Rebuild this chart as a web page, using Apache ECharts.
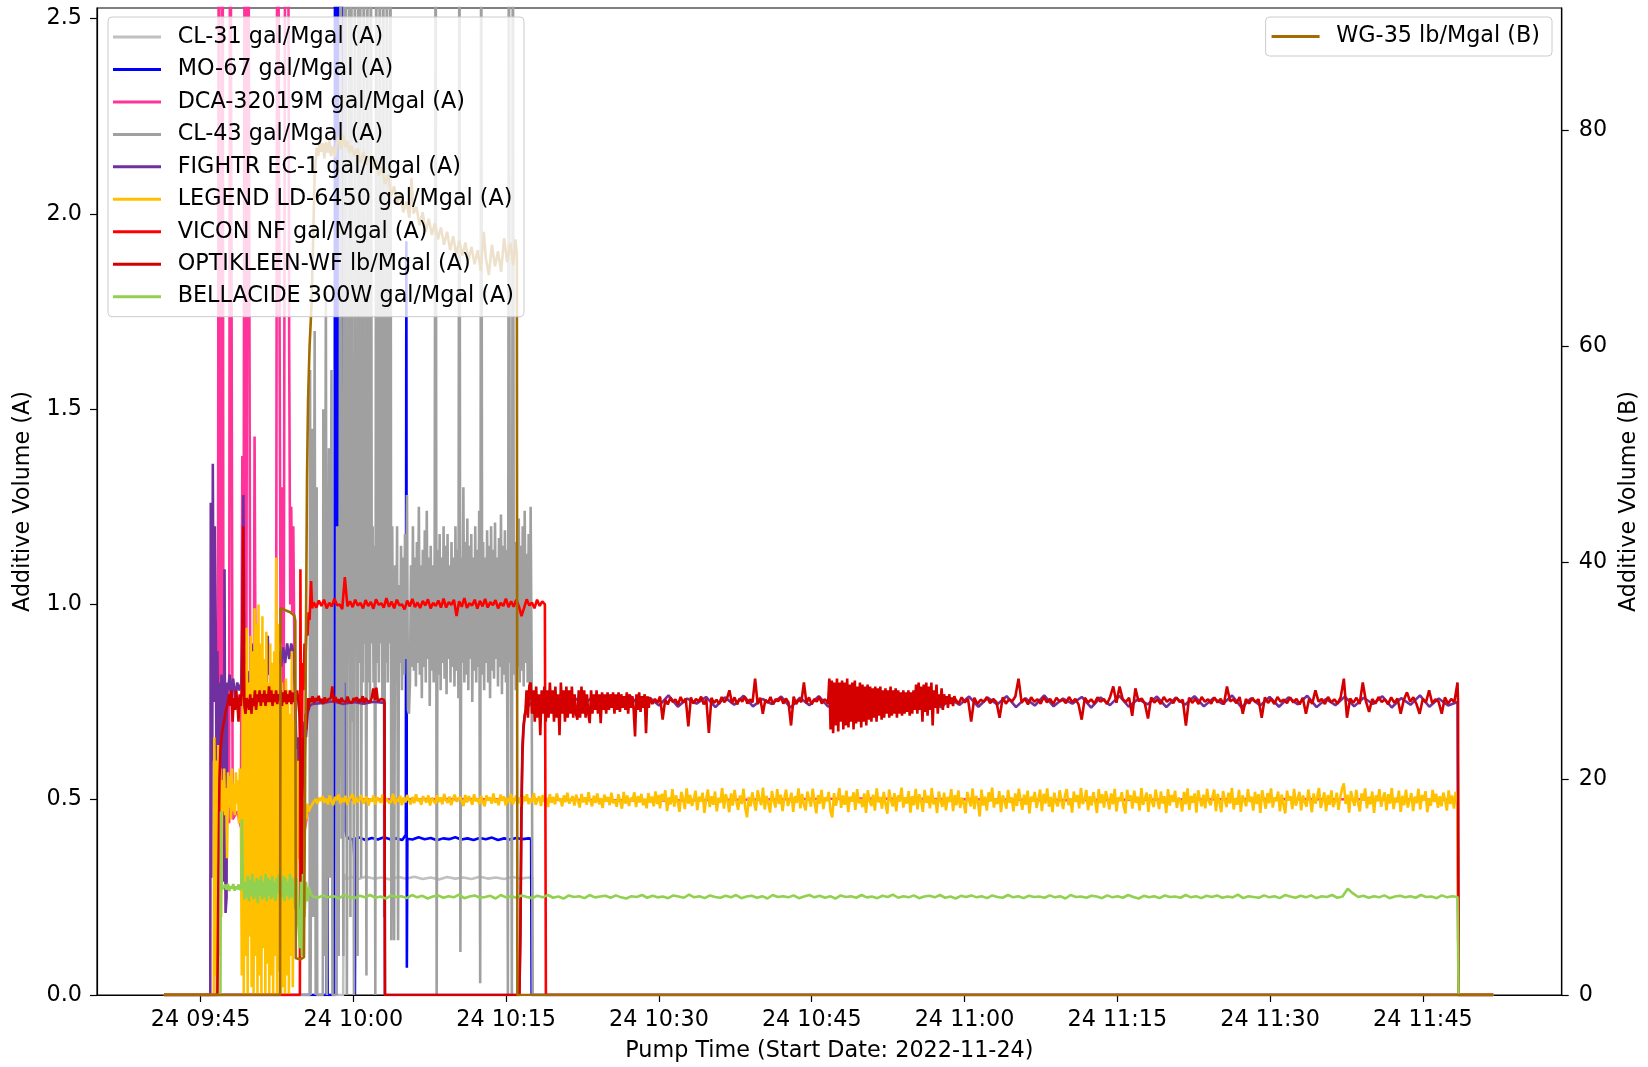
<!DOCTYPE html>
<html><head><meta charset="utf-8">
<script src="https://cdn.jsdelivr.net/npm/echarts@6/dist/echarts.min.js"></script>
<style>html,body{margin:0;padding:0;background:#fff}#chart{width:1648px;height:1067px}</style>
</head><body><div id="chart"></div>
<script>
// Time values are minutes after 09:00 on 2022-11-24
const xTickValues = [45, 60, 75, 90, 105, 120, 135, 150, 165];
const yTickValuesA = [0, 0.5, 1, 1.5, 2, 2.5];
const yTickValuesB = [0, 20, 40, 60, 80];
const seriesNames = ['CL-31 gal/Mgal (A)', 'MO-67 gal/Mgal (A)', 'DCA-32019M gal/Mgal (A)', 'CL-43 gal/Mgal (A)',
  'FIGHTR EC-1 gal/Mgal (A)', 'LEGEND LD-6450 gal/Mgal (A)', 'VICON NF gal/Mgal (A)', 'OPTIKLEEN-WF lb/Mgal (A)',
  'BELLACIDE 300W gal/Mgal (A)', 'WG-35 lb/Mgal (B)'];

// evenly sampled readings between two times
function spread(t0, t1, vals) {
  const n = vals.length, out = [];
  for (let i = 0; i < n; i++) out.push([t0 + (t1 - t0) * i / (n - 1), vals[i]]);
  return out;
}

const cl31 = [[41.4,0],[59.0,0],[59.05,0.31],[59.3,0.296],[59.8,0.302],[60.5,0.297],[61.2,0.303],[62.0,0.298],[62.8,0.301],[63.6,0.296],[64.4,0.302],[65.2,0.298],[66.0,0.303],[66.8,0.297],[67.6,0.301],[68.4,0.296],[69.2,0.302],[70.0,0.298],[70.8,0.301],[71.6,0.297],[72.4,0.303],[73.2,0.298],[74.0,0.301],[74.8,0.297],[75.6,0.302],[76.4,0.298],[77.2,0.301],[77.55,0.3],[77.6,0],[171.9,0]];

const mo67 = [[41.4,0],[57.38,0],[57.43,0.71],[57.48,0],[58.15,0],[58.2,3.2],[58.3,0],[58.4,3.2],[58.5,0.1],[58.6,3.2],[58.75,1.5],[58.85,3.2],[59.0,0.8],[59.2,1.3],[59.25,0.42],[59.35,0.405],[59.6,0.40],[60.0,0.398],[60.1,0.35],[60.15,0],[60.2,0.40],[60.6,0.403],[61.2,0.397],[61.8,0.402],[62.4,0.398],[63.0,0.404],[63.6,0.399],[64.2,0.401],[64.8,0.397],[65.15,0.41],[65.2,1.93],[65.25,0.07],[65.3,0.40],[65.8,0.398],[66.4,0.404],[67.0,0.399],[67.6,0.402],[68.2,0.396],[68.8,0.401],[69.4,0.399],[70.0,0.404],[70.6,0.398],[71.2,0.401],[71.8,0.397],[72.4,0.402],[73.0,0.399],[73.6,0.403],[74.2,0.397],[74.8,0.401],[75.4,0.398],[76.0,0.402],[76.6,0.399],[77.2,0.401],[77.45,0.40],[77.5,0],[171.9,0]];

const dca = [[41.4,0],[46.6,0],[46.7,0.55],[46.8,3.5],[46.9,0.48],[47.05,0.5],[47.15,3.5],[47.25,0.46],[47.5,0.47],[47.8,0.44],[47.9,3.5],[48.05,3.5],[48.15,0.45],[48.6,0.47],[48.95,0.43],[49.1,1.38],[49.2,0.5],[49.35,3.5],[49.5,0.9],[49.65,3.5],[49.8,3.5],[49.9,0.45],[50.2,0.46],[50.3,1.43],[50.45,0.45],[51.5,0.47],[52.4,0.46],[52.55,3.5],[52.7,3.5],[52.85,0.9],[53.0,1.3],[53.15,0.6],[53.35,3.5],[53.55,3.5],[53.7,1.64],[53.8,1.0],[53.9,1.25],[54.0,0.98],[54.1,1.2],[54.2,0.9],[54.35,0.4],[54.6,0.36],[54.9,0.34],[55.2,0.42],[55.6,0.48],[56.0,0.5],[70,0.502],[90,0.498],[110,0.503],[130,0.499],[150,0.502],[168.4,0.5],[168.5,0],[171.9,0]];

const cl43Start = [[41.4,0],[55.7,0],[55.75,1.6],[55.8,0],[55.95,1.45],[56.05,0.2],[56.2,1.7],[56.3,0],[56.4,1.3],[56.45,0],[57.0,0],[57.05,1.5],[57.15,0.1],[57.3,1.8],[57.4,0],[57.6,1.4],[57.7,0.3],[57.85,1.6],[57.95,0],[58.3,0],[58.4,1.2],[58.5,0.1],[58.65,1.1]];
const cl43Burst = [3,.4,1.2,.1,3,.8,3,0,1.1,.9, 3,.2,3,.7,1.3,0,3,.9,1.15,.1, 3,.85,3,.3,1.2,.8,3,.9,1.25,.05, 3,.8,1.1,.75,3,.9,1.2,.8,1.15,0, 3,.85,1.3,.8,3,.9,1.1,.75,3,.2, 1.2,.85,3,.8,1.15,.9,3,.14,1.2,.8];
const cl43Band = [.14,1.1,.8,1.2,.14,1.05,.85,1.15,.78,1.12,
 .82,1.18,.86,1.28,.73,.72,.8,1.1,.84,1.2,
 .83,1.12,.79,1.16,.85,1.25,.82,1.1,.76,1.14,
 .84,1.19,.8,1.24,.86,1.12,.74,1.15,.83,1.1,
 .8,1.14,3,0,1.14,.82,1.18,.78,1.12,.85,
 1.2,.81,1.15,.77,1.18,.86,1.1,.8,1.16,.84,
 1.12,.79,1.2,.83,1.14,.76,3,.11,1.12,.85,
 1.3,.8,1.16,.82,1.22,.78,1.15,.86,1.18,.75,
 1.12,.83,1.2,.8,1.14,.84,1.24,.03,3,.82,
 1.16,.78,1.12,.85,1.19,.8,1.15,.76,1.2,.83,
 1.14,.81,1.21,.86,1.12,.79,1.17,.84,1.23,.77,
 1.15,.82,1.19,.8,1.14,0,3,.85,1.2,0,
 3,.82,1.16,.78,1.12,.84,1.22,.8,1.15,.83,
 1.2,.79,1.24,.85,1.13,.8,1.18,.76,1.25,.84];
const cl43End = [[77.6,0],[171.9,0]];

const fightrP1 = [[41.4,0],[45.95,0],[46.0,1.26],[46.05,0.3],[46.1,1.1],[46.15,0.6],[46.2,1.36],[46.3,0.75],[46.4,1.2],[46.5,0.9],[46.55,0.6],[46.65,0.88],[46.75,0.62],[46.85,0.8],[46.95,0.58],[47.05,0.82],[47.15,0.79],[47.3,0.29],[47.35,1.09],[47.45,0.21],[47.55,0.25],[47.6,0.8],[47.7,0.78],[47.85,0.82],[48.0,0.77],[48.2,0.81],[48.4,0.76],[48.6,0.8],[48.8,0.78],[49.0,0.8],[49.1,0.95],[49.2,1.28],[49.3,0.85],[49.45,0.8],[49.6,0.83],[49.8,0.78],[50.0,0.84],[50.2,0.9],[50.35,0.8],[50.5,0.83],[50.7,0.79],[50.9,0.85],[51.1,0.81],[51.3,0.86],[51.5,0.8],[51.6,0.92],[51.7,0.82],[51.9,0.85],[52.1,0.8],[52.3,0.86],[52.5,0.82],[52.7,0.88],[52.9,0.84],[53.1,0.89],[53.3,0.85],[53.5,0.9],[53.7,0.86],[53.9,0.9],[54.1,0.88],[54.3,0.75],[54.45,0.58],[54.6,0.66],[54.75,0.53],[54.9,0.68],[55.05,0.6],[55.2,0.7],[55.35,0.66],[55.5,0.72],[55.7,0.74],[56.0,0.745],[57.0,0.748],[58.0,0.752],[59.0,0.745],[60.0,0.75],[61.0,0.746],[62.0,0.751],[63.05,0.748],[63.1,0]];
const fightrRise = [[76.3,0],[76.4,0.2],[76.5,0.5],[76.6,0.64],[76.7,0.69],[76.85,0.72],[77.0,0.735]];
const fightrBand = [.738,.763,.742,.766,.737,.76,.745,.764,.739,.758,
 .744,.765,.736,.761,.741,.767,.738,.759,.746,.763,
 .737,.762,.743,.766,.739,.758,.745,.764,.736,.761,
 .742,.765,.738,.76,.744,.767,.737,.759,.741,.763,
 .739,.762,.745,.766,.736,.758,.743,.764,.738,.761,
 .744,.765,.737,.76,.741,.767,.739,.759,.746,.763,
 .736,.762,.742,.766,.738,.758,.744,.764,.737,.761,
 .743,.765,.739,.76,.745,.767,.736,.759,.741,.763,
 .738,.762,.744,.766,.737,.758,.742,.764,.739,.761,
 .745,.765,.736,.76,.743,.767,.738,.759,.741,.75];
const fightrEnd = [[168.5,0],[171.9,0]];

const legendStart = [[41.4,0],[46.3,0]];
const legendChaos = [.66,.05,.6,0,.64,.1,.58,.2,
 .55,.47,.58,.46,.53,.35,.57,.48,.56,.45,.58,.47,.54,.46,.57,.49,.55,.44,.58,.5,
 .05,.9,0,.85,.1,.94,0,.8,.15,.92,.02,.88,0,.99,.1,.95,0,1.0,.05,.9,0,.97,.12,.86,0,.93,.08,.8,0,.9,.05,.85,0,.88,.1,1.12,0,.95,.06,.84,
 0,.8,.02,.75,0,.81,.05,.78,0,.72,.1,.88,.02,.7,
 .28,.63,.3,.6,.35,.55,.18,.53,.25,.5,.4,.48,.45,.49];
const legendBandA = [.47,.48,.488,.495,.502,.49,.505,.497,.509,.492,
 .503,.488,.511,.496,.486,.507,.499,.513,.491,.504,
 .494,.51,.487,.502,.497,.514,.489,.506,.493,.501,
 .512,.49,.498,.508,.485,.503,.495,.511,.488,.506,
 .499,.492,.513,.487,.504,.509,.491,.497,.515,.489,
 .502,.495,.51,.486,.506,.493,.512,.498,.488,.507,
 .491,.514,.496,.503,.487,.509,.5,.493,.511,.485,
 .505,.497,.49,.512,.494,.506,.488,.515,.499,.492,
 .508,.486,.501,.513,.495,.49,.507,.497,.484,.512,
 .493,.509,.5,.487,.514,.496,.503,.489,.51,.494,
 .483,.511,.498,.506,.49,.516,.492,.502,.486,.513,
 .497,.508,.485,.504,.493,.515,.488,.5,.511,.491,
 .506,.482,.51,.496,.514,.489,.503,.494,.517,.487,
 .499,.509,.484,.512,.495,.505,.481,.514,.492,.507,
 .488,.516,.497,.503,.483,.511,.494,.518,.49,.5,
 .509,.485,.513,.496,.48,.515,.493,.506,.487,.519,
 .498,.483,.51,.492,.516,.488,.504,.479,.513,.495,
 .507,.486,.518,.491,.5,.482,.514,.496,.477,.52,
 .49,.511,.484,.505,.497,.519,.481,.509,.493,.515,
 .486,.503,.478,.517,.492,.508,.483,.521,.489,.512];
const legendBandB = [.478,.515,.497,.524,.471,.506,.488,.527,.482,.511,
 .494,.469,.52,.503,.476,.529,.49,.512,.484,.5,
 .523,.473,.508,.495,.518,.466,.502,.526,.481,.509,
 .487,.521,.47,.505,.492,.53,.477,.514,.499,.468,
 .516,.485,.525,.496,.474,.511,.489,.528,.479,.455,
 .507,.483,.519,.493,.472,.524,.501,.486,.531,.475,
 .51,.491,.467,.522,.498,.48,.527,.489,.513,.471,
 .504,.526,.484,.497,.518,.469,.509,.492,.529,.478,
 .515,.488,.473,.521,.5,.482,.528,.494,.465,.512,
 .49,.525,.476,.506,.496,.52,.47,.455,.517,.485,
 .503,.53,.479,.511,.487,.523,.468,.508,.495,.519,
 .474,.527,.491,.502,.481,.516,.466,.524,.498,.484,
 .513,.472,.529,.493,.507,.477,.52,.489,.464,.526,
 .499,.483,.517,.47,.511,.495,.531,.48,.506,.49,
 .522,.467,.509,.486,.528,.475,.514,.497,.469,.525,
 .492,.51,.478,.53,.488,.503,.466,.521,.496,.482,
 .518,.473,.507,.494,.527,.471,.512,.486,.524,.479,
 .505,.491,.465,.52,.498,.483,.529,.476,.51,.493,
 .457,.526,.485,.508,.472,.519,.495,.531,.48,.503,
 .489,.522,.468,.511,.497,.477,.525,.492,.506,.47,
 .516,.484,.528,.499,.474,.513,.487,.523,.465,.508,
 .495,.52,.479,.5,.526,.471,.515,.49,.529,.482,
 .507,.468,.518,.493,.483,.524,.498,.476,.511,.527,
 .486,.504,.467,.521,.494,.512,.478,.53,.489,.501,
 .525,.473,.509,.485,.519,.496,.466,.527,.491,.514,
 .48,.522,.502,.475,.516,.488,.528,.47,.506,.497,
 .519,.484,.465,.525,.499,.511,.477,.523,.492,.508,
 .472,.53,.487,.503,.518,.469,.514,.495,.481,.526,
 .5,.476,.521,.49,.509,.466,.527,.485,.512,.494,
 .523,.479,.505,.497,.47,.52,.488,.529,.474,.51,
 .492,.516,.467,.524,.501,.483,.513,.478,.528,.496,
 .486,.507,.526,.471,.515,.493,.468,.522,.499,.481,
 .518,.49,.53,.475,.504,.487,.525,.469,.511,.497,
 .483,.527,.494,.508,.472,.52,.489,.514,.466,.524,
 .502,.477,.517,.491,.529,.48,.506,.496,.521,.47,
 .513,.488,.465,.523,.498,.509,.476,.528,.485,.503,
 .52,.473,.511,.494,.482,.526,.5,.468,.516,.49,
 .507,.53,.479,.497,.519,.471,.512,.487,.524,.481,
 .495,.518,.474,.506,.528,.542,.489,.513,.467,.522,
 .501,.484,.525,.492,.47,.516,.498,.529,.478,.508,
 .488,.521,.466,.511,.496,.527,.482,.504,.519,.473,
 .514,.49,.53,.476,.505,.493,.523,.469,.51,.486,
 .526,.48,.499,.517,.471,.508,.491,.528,.475,.512,
 .497,.522,.468,.503,.485,.525,.494,.515,.479,.509,
 .483,.518,.5,.472,.524,.489,.511,.477,.52,.495];
const legendEnd = [[168.45,0.5],[168.5,0],[171.9,0]];

const viconRise = [[41.4,0],[54.75,0],[54.8,1.09],[54.9,0.3],[55.0,0.85],[55.1,0.78],[55.2,0.9],[55.3,0.86],[55.4,0.95],[55.5,0.92],[55.6,0.98],[55.7,0.96],[55.85,1.06],[55.95,0.99]];
const viconFlat = [1.005,.992,1.01,.996,1.012,.99,1.004,.995,1.015,.998,
 1.0,.988,1.07,.995,1.008,.993,1.012,.997,1.004,.99,
 1.011,.996,1.006,.989,1.013,.999,1.003,.992,1.016,.994,
 1.007,.99,1.012,.998,1.0,.987,1.01,.995,1.014,.993,
 1.005,.991,1.009,.997,1.013,.99,1.004,.996,1.01,.992,
 1.015,.992,1.006,.999,1.012,.97,1.008,.994,1.016,.991,
 1.003,.997,1.012,.989,1.009,.995,1.014,.992,1.006,.998,
 1.011,.99,1.004,.996,1.015,.993,1.008,.994,1.012,.995,
 .97,.991,1.013,.997,1.005,.99,1.012,.996,1.008,1.0];
const viconEnd = [[78.85,1.0],[78.9,0],[171.9,0]];

const optiStart = [[41.4,0],[46.65,0],[46.75,0.3],[46.85,0.55],[46.95,0.63],[47.1,0.67],[47.3,0.7],[47.5,0.73],[47.7,0.75]];
const optiEarly1 = [.77,.74,.78,.70,.76,.73,.78,.75,.70,.77,
 .74,.78,1.2,.74,.72,.76,.75,.73,.77,.72,
 .76,.74,.78,.73,.77,.75,.78,.74,.77,.75,
 .78,.74,.77,.75,.79,.75,.78,.74,.77,.75,
 .78,.745,.77,.755,.78,.74,.775,.75,.78,.745,
 .77,.75,.78,.745,.775,.75,.77,.755,.78,.75];
const optiDip = [[54.7,0.72],[54.8,0.6],[54.9,0.35],[54.95,0.2],[55.0,0.5],[55.1,0.66],[55.2,0.58],[55.3,0.72],[55.4,0.68],[55.5,0.76],[55.6,0.73]];
const optiEarly2 = [.76,.75,.765,.748,.76,.752,.766,.75,.758,.745,
 .762,.75,.756,.752,.76,.79,.748,.763,.751,.757,
 .746,.761,.753,.758,.749,.764,.752,.757,.747,.76,
 .754,.762,.749,.758,.751,.765,.748,.76,.753,.757,
 .75,.762,.785,.755,.787,.752,.75,.758,.753,.756];
const optiGap = [[63.05,0.75],[63.1,0],[76.3,0],[76.4,0.15],[76.5,0.45],[76.6,0.62],[76.7,0.68],[76.8,0.71],[76.9,0.73]];
const optiR1 = [.78,.71,.79,.80,.72,.78,.70,.79,.71,.77,
 .665,.78,.72,.79,.70,.78,.71,.80,.72,.78,
 .70,.79,.71,.77,.665,.80,.72,.78,.70,.79,
 .71,.78,.72,.79,.71,.77,.72,.705,.78,.71,
 .79,.72,.78,.71,.77,.72,.696,.78,.72,.77,
 .73,.78,.72,.77,.696,.775,.73,.77,.72,.775,
 .73,.77,.735,.775,.72,.77,.73,.775,.725,.77,
 .735,.765,.73,.775,.72,.77,.735,.765,.73,.662,
 .77,.73,.775,.725,.765,.735,.77,.67,.765,.735];
const optiR2 = [.762,.745,.758,.748,.764,.705,.756,.744,.761,.75,
 .757,.743,.763,.749,.759,.688,.762,.746,.758,.751,
 .764,.744,.757,.671,.761,.748,.756,.745,.763,.75,
 .758,.78,.747,.762,.744,.759,.751,.764,.746,.757,
 .749,.81,.745,.761,.72,.756,.748,.763,.744,.758,
 .752,.762,.746,.759,.749,.69,.764,.745,.757,.75,
 .80,.747,.762,.744,.758,.751,.763,.746,.757,.752];
const optiR3 = [.745,.81,.68,.805,.67,.80,.69,.81,.675,.80,
 .70,.805,.68,.80,.69,.81,.685,.795,.70,.80,
 .68,.805,.695,.79,.70,.80,.685,.795,.70,.79,
 .69,.795,.705,.79,.70,.785,.71,.79,.70,.785,
 .715,.79,.705,.78,.71,.785,.72,.78,.71,.79,
 .715,.78,.72,.785,.71,.78,.72,.775,.715,.78,
 .72,.775,.725,.78,.715,.775,.72,.78,.73,.795,
 .72,.80,.73,.79,.70,.795,.725,.80,.715,.79,
 .73,.80,.69,.78,.735,.795,.72,.77,.74,.785,
 .73,.77,.745,.765,.735,.77,.745,.762,.74,.765];
const optiR4 = [.757,.746,.762,.749,.758,.70,.761,.745,.756,.751,
 .763,.747,.758,.750,.71,.762,.746,.757,.752,.764,
 .81,.748,.759,.744,.762,.751,.757,.746,.763,.749,
 .758,.745,.761,.752,.756,.747,.763,.75,.758,.744,
 .705,.761,.749,.757,.746,.762,.751,.758,.745,.763,
 .79,.748,.79,.757,.75,.761,.715,.785,.752,.759,
 .746,.708,.762,.749,.757,.745,.763,.751,.758,.747,
 .762,.75,.756,.69,.761,.748,.758,.745,.763,.751,
 .757,.746,.762,.749,.758,.744,.79,.752,.757,.747,
 .763,.72,.758,.746,.761,.75,.757,.71,.762,.748,
 .758,.745,.763,.751,.756,.747,.762,.749,.758,.744,
 .761,.72,.757,.746,.78,.751,.758,.745,.763,.749,
 .757,.746,.762,.81,.71,.759,.748,.761,.745,.80,
 .752,.725,.758,.746,.763,.75,.757,.744,.762,.748,
 .759,.72,.756,.775,.751,.762,.745,.72,.758,.749,
 .78,.747,.757,.751,.72,.762,.746,.758,.75,.80];
const optiEnd = [[168.45,0.75],[168.5,0],[171.9,0]];

const bellStart = [[41.4,0],[46.95,0],[47.0,0.47],[47.05,0.3],[47.1,0.27]];
const bellEarly1 = [.275,.268,.282,.27,.285,.266,.279,.272,.284,.267,.278,.271,.283,.269,.276];
const bellSpike = [[49.05,0.45],[49.15,0.3]];
const bellEarly2 = [.30,.245,.29,.25,.305,.24,.295,.255,.31,.245,
 .29,.25,.30,.235,.295,.255,.305,.245,.29,.25,
 .31,.24,.30,.255,.295,.245,.305,.25,.29,.24,
 .30,.26,.31,.245,.295,.25,.305,.24,.3,.255,
 .29,.245,.31,.25,.3];
const bellSettle = [[54.1,0.28],[54.3,0.22],[54.45,0.3],[54.6,0.18],[54.75,0.12],[54.85,0.29],[54.95,0.1],[55.05,0.31],[55.2,0.2],[55.35,0.29],[55.5,0.24],[55.65,0.275],[55.8,0.26]];
const bellBand = [.252,.249,.255,.25,.253,.247,.256,.251,.248,.254,
 .25,.256,.249,.252,.247,.255,.251,.253,.248,.256,
 .25,.254,.247,.252,.255,.249,.253,.25,.257,.248,
 .252,.255,.249,.251,.254,.247,.256,.25,.253,.249,
 .255,.251,.248,.254,.25,.256,.249,.252,.247,.255,
 .251,.253,.248,.256,.25,.252,.254,.249,.255,.25,
 .247,.253,.251,.256,.249,.254,.25,.252,.248,.255,
 .252,.249,.257,.25,.253,.248,.255,.251,.249,.254,
 .25,.256,.248,.252,.254,.249,.253,.247,.256,.251,
 .253,.25,.255,.248,.252,.256,.25,.254,.249,.253,
 .247,.255,.251,.253,.249,.256,.25,.252,.248,.254,
 .251,.257,.249,.253,.25,.255,.248,.252,.254,.25,
 .256,.249,.252,.247,.254,.251,.255,.25,.253,.248,
 .255,.251,.249,.256,.25,.253,.248,.254,.251,.252,
 .249,.255,.25,.253,.247,.256,.251,.252,.249,.254,
 .252,.248,.255,.25,.253,.249,.256,.251,.247,.254,
 .25,.253,.248,.255,.251,.252,.249,.256,.25,.253,
 .248,.254,.251,.255,.249,.252,.25,.257,.248,.253,
 .251,.249,.255,.25,.253,.248,.256,.252,.249,.254,
 .25,.255,.248,.253,.251,.256,.249,.252,.272,.26,
 .251,.254,.249,.253,.25,.255,.248,.252,.254,.25,
 .253,.249,.256,.251,.252,.248,.255,.25,.253,.251];
const bellEnd = [[168.45,0.25],[168.5,0],[171.9,0]];

const wg35 = [[41.4,0],[52.8,0],[52.85,35.8],[53.3,35.6],[53.8,35.4],[54.2,35.1],[54.3,34.6],[54.35,3.4],[54.8,3.3],[55.15,3.5],[55.25,18],[55.35,34],[55.45,48],[55.55,55],[55.7,60],[55.9,64],[56.05,70],[56.2,75.9],[56.4,78.4],[56.55,77.6],[56.7,79.0],[56.85,78.0],[57.0,78.8],[57.15,77.4],[57.3,78.9],[57.5,77.9],[57.65,79.1],[57.8,77.6],[58.0,78.5],[58.2,77.5],[58.35,78.7],[58.6,79.4],[58.8,78.2],[59.0,79.6],[59.2,78.4],[59.4,79.0],[59.6,77.9],[59.8,78.6],[60.1,77.6],[60.4,78.3],[60.7,77.0],[61.0,78.0],[61.3,76.8],[61.6,77.6],[61.9,76.4],[62.2,77.2],[62.5,75.8],[62.8,76.6],[63.1,75.0],[63.4,75.9],[63.7,73.9],[64.0,74.8],[64.3,73.2],[64.6,74.1],[64.9,72.4],[65.2,73.4],[65.5,71.9],[65.7,75.6],[65.9,72.3],[66.2,72.9],[66.5,71.2],[66.8,72.4],[67.1,70.6],[67.4,71.8],[67.7,70.3],[68.0,71.4],[68.3,69.9],[68.6,71.0],[68.9,69.4],[69.2,70.6],[69.5,68.9],[69.8,70.2],[70.1,68.5],[70.4,69.8],[70.7,68.4],[71.0,69.6],[71.3,68.0],[71.6,69.2],[71.9,67.6],[72.2,68.9],[72.5,67.0],[72.8,70.6],[73.0,68.2],[73.3,66.6],[73.6,69.4],[73.9,67.4],[74.2,68.8],[74.5,66.9],[74.8,70.0],[75.1,67.8],[75.4,69.6],[75.7,67.5],[75.9,69.9],[76.05,68.6],[76.1,0],[171.9,0]];

const seriesData = [
  cl31,
  mo67,
  dca,
  [...cl43Start, ...spread(58.75, 63.9, cl43Burst), ...spread(64.0, 77.5, cl43Band), ...cl43End],
  [...fightrP1, ...fightrRise, ...spread(77.1, 168.4, fightrBand), ...fightrEnd],
  [...legendStart, ...spread(46.35, 55.5, legendChaos), ...spread(55.6, 90.0, legendBandA), ...spread(90.1, 168.4, legendBandB), ...legendEnd],
  [...viconRise, ...spread(56.1, 78.8, viconFlat), ...viconEnd],
  [...optiStart, ...spread(47.8, 54.6, optiEarly1), ...optiDip, ...spread(55.7, 63.0, optiEarly2), ...optiGap,
   ...spread(77.0, 89.0, optiR1), ...spread(89.1, 106.5, optiR2), ...spread(106.6, 119.0, optiR3), ...spread(119.1, 168.4, optiR4), ...optiEnd],
  [...bellStart, ...spread(47.15, 49.0, bellEarly1), ...bellSpike, ...spread(49.2, 54.0, bellEarly2), ...bellSettle, ...spread(56.0, 168.4, bellBand), ...bellEnd],
  wg35
];
const colors = ['#c0c0c0', '#0000ff', '#ff3399', '#a0a0a0', '#7030a0', '#ffc000', '#ff0000', '#d40000', '#92d050', '#a36b00'];

const FONT = 'DejaVu Sans';
const FS = 22.3;
const pad = n => String(n).padStart(2, '0');

const chart = echarts.init(document.getElementById('chart'), null, { renderer: 'canvas' });
chart.setOption({
  animation: false,
  backgroundColor: '#fff',
  textStyle: { fontFamily: FONT },
  grid: { left: 97, right: 84.5, top: 8, bottom: 71, show: true, borderColor: '#000', borderWidth: 1.2, backgroundColor: 'transparent' },
  legend: [
    {
      data: seriesNames.slice(0, 9), orient: 'vertical', left: 108, top: 17,
      padding: [7, 10, 7, 5], itemGap: 6.46, itemWidth: 48, itemHeight: 3, icon: 'rect',
      backgroundColor: 'rgba(255,255,255,0.8)', borderColor: '#cccccc', borderWidth: 1, borderRadius: 4,
      selectedMode: false,
      textStyle: { fontFamily: FONT, fontSize: FS, color: '#000', lineHeight: 26, padding: [0, 0, 0, 11.7] }
    },
    {
      data: [seriesNames[9]], orient: 'vertical', right: 96, top: 17,
      padding: [6.5, 12, 6.5, 6], itemWidth: 48, itemHeight: 3, icon: 'rect',
      backgroundColor: 'rgba(255,255,255,0.8)', borderColor: '#cccccc', borderWidth: 1, borderRadius: 4,
      selectedMode: false,
      textStyle: { fontFamily: FONT, fontSize: FS, color: '#000', lineHeight: 26, padding: [0, 0, 0, 11.7] }
    }
  ],
  xAxis: {
    type: 'value', min: 34.83, max: 178.63,
    name: 'Pump Time (Start Date: 2022-11-24)', nameLocation: 'middle', nameGap: 45,
    nameTextStyle: { fontFamily: FONT, fontSize: FS, color: '#000' },
    axisLine: { onZero: false, lineStyle: { color: '#000', width: 1.2 } },
    axisTick: { customValues: xTickValues, length: 7, lineStyle: { color: '#000', width: 1.2 } },
    axisLabel: {
      customValues: xTickValues, margin: 14, fontFamily: FONT, fontSize: FS, color: '#000',
      formatter: v => '24 ' + pad(9 + Math.floor(v / 60)) + ':' + pad(Math.round(v % 60))
    },
    splitLine: { show: false }
  },
  yAxis: [
    {
      type: 'value', min: 0, max: 2.527, position: 'left',
      name: 'Additive Volume (A)', nameLocation: 'middle', nameGap: 63, nameRotate: 90,
      nameTextStyle: { fontFamily: FONT, fontSize: FS, color: '#000' },
      axisLine: { show: true, lineStyle: { color: '#000', width: 1.2 } },
      axisTick: { show: true, customValues: yTickValuesA, length: 7, lineStyle: { color: '#000', width: 1.2 } },
      axisLabel: { customValues: yTickValuesA, margin: 15, fontFamily: FONT, fontSize: FS, color: '#000', formatter: v => v.toFixed(1) },
      splitLine: { show: false }
    },
    {
      type: 'value', min: 0, max: 91.3, position: 'right',
      name: 'Additive Volume (B)', nameLocation: 'middle', nameGap: 47, nameRotate: 90,
      nameTextStyle: { fontFamily: FONT, fontSize: FS, color: '#000' },
      axisLine: { show: true, lineStyle: { color: '#000', width: 1.2 } },
      axisTick: { show: true, customValues: yTickValuesB, length: 7, lineStyle: { color: '#000', width: 1.2 } },
      axisLabel: { customValues: yTickValuesB, margin: 17, fontFamily: FONT, fontSize: FS, color: '#000', formatter: v => String(v) },
      splitLine: { show: false }
    }
  ],
  series: seriesNames.map((name, i) => ({
    name, type: 'line', data: seriesData[i], yAxisIndex: i === 9 ? 1 : 0,
    showSymbol: false, symbol: 'none', silent: true, clip: true,
    color: colors[i], lineStyle: { color: colors[i], width: 2.6 },
    emphasis: { disabled: true }
  }))
});
</script></body></html>
